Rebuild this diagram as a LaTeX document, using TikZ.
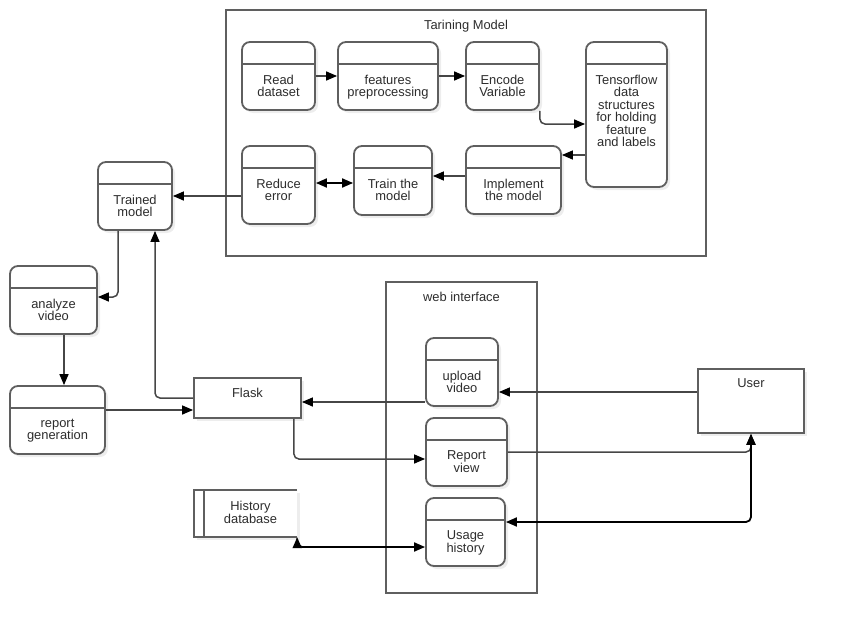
\documentclass[tikz,border=0pt]{standalone}
\usepackage{fontspec}
\setmainfont{Liberation Sans}
\usetikzlibrary{arrows.meta,shadows}

\definecolor{boxline}{RGB}{95,95,95}
\definecolor{flowline}{RGB}{70,70,70}
\definecolor{txtcol}{RGB}{45,45,45}

\tikzset{
  txt/.style={text=txtcol, align=center, inner sep=0pt, font=\fontsize{12.9}{12.5}\selectfont},
  proc/.style={draw=boxline, line width=1.8pt, fill=white, rounded corners=8pt,
    drop shadow={shadow xshift=3pt, shadow yshift=-3pt, fill=black!7, opacity=1},
    path picture={\draw[boxline, line width=1.8pt]
      ([yshift=-22pt]path picture bounding box.north west) -- ([yshift=-22pt]path picture bounding box.north east);},
    label={[txt, anchor=north, yshift=-33.5pt]north:#1}},
  ent/.style={draw=boxline, line width=1.8pt, fill=white,
    drop shadow={shadow xshift=3pt, shadow yshift=-3pt, fill=black!7, opacity=1},
    label={[txt, anchor=north, yshift=-10.5pt]north:#1}},
  group/.style={draw=boxline, line width=1.9pt},
  flow/.style={draw=flowline, line width=1.5pt, rounded corners=5pt, ->},
  both/.style={flow, draw=black, line width=1.8pt, <->},
}

\begin{document}
\begin{tikzpicture}[x=1pt, y=-1pt, >={Triangle[length=11pt, width=9pt, color=black]}]
  \useasboundingbox (0,0) rectangle (844,634);

  % containers
  \node[group, minimum width=480, minimum height=246] (trainbox) at (466,133) {};
  \node[txt] (traintitle) at (466,26) {Tarining Model};
  \node[group, minimum width=151, minimum height=311] (webbox) at (461.5,437.5) {};
  \node[txt] (webtitle) at (461.5,297) {web interface};

  % training steps
  \node[proc={Read\\dataset}, minimum width=73, minimum height=68] (read) at (278.5,76) {};
  \node[proc={features\\preprocessing}, minimum width=100, minimum height=68] (feat) at (388,76) {};
  \node[proc={Encode\\Variable}, minimum width=73, minimum height=68] (enc) at (502.5,76) {};
  \node[proc={Tensorflow\\data\\structures\\for holding\\feature\\and labels}, minimum width=81, minimum height=145] (tfds) at (626.5,114.5) {};
  \node[proc={Reduce\\error}, minimum width=73, minimum height=78] (reduce) at (278.5,185) {};
  \node[proc={Train the\\model}, minimum width=78, minimum height=69] (trainm) at (393,180.5) {};
  \node[proc={Implement\\the model}, minimum width=95, minimum height=68] (impl) at (513.5,180) {};

  % use of the model
  \node[proc={Trained\\model}, minimum width=74, minimum height=68] (trained) at (135,196) {};
  \node[proc={analyze\\video}, minimum width=87, minimum height=68] (analyze) at (53.5,300) {};
  \node[proc={report\\generation}, minimum width=95, minimum height=68] (report) at (57.5,420) {};
  \node[ent=Flask, minimum width=107, minimum height=40] (flask) at (247.5,398) {};
  \node[ent=User, minimum width=106, minimum height=64] (user) at (751,401) {};

  % web interface
  \node[proc={upload\\video}, minimum width=72, minimum height=68] (upload) at (462,372) {};
  \node[proc={Report\\view}, minimum width=81, minimum height=68] (rview) at (466.5,452) {};
  \node[proc={Usage\\history}, minimum width=79, minimum height=68] (usage) at (465.5,532) {};

  % data store
  \node[minimum width=103, minimum height=47, fill=white,
    drop shadow={shadow xshift=3pt, shadow yshift=-3pt, fill=black!7, opacity=1},
    label={[txt, xshift=5pt, yshift=1pt]center:History\\database}] (hdb) at (245.5,513.5) {};
  \draw[boxline, line width=1.8pt] (hdb.north east) -- (hdb.north west) -- (hdb.south west) -- (hdb.south east);
  \draw[boxline, line width=1.8pt] ([xshift=10pt]hdb.north west) -- ([xshift=10pt]hdb.south west);

  % training flow
  \draw[flow] (read) -- (feat);
  \draw[flow] (feat) -- (enc);
  \draw[flow] (enc.south east) |- ([yshift=-9.5pt]tfds.west);
  \coordinate (tfout) at ([yshift=-40.5pt]tfds.west);
  \draw[flow] (tfout) -- (tfout -| impl.east);
  \coordinate (implout) at ([yshift=4pt]impl.west);
  \draw[flow] (implout) -- (implout -| trainm.east);
  \coordinate (trainout) at ([yshift=-2.5pt]trainm.west);
  \draw[both] (trainout) -- (trainout -| reduce.east);
  \draw[flow] (trained.east -| reduce.west) -- (trained.east);

  % model to report
  \draw[flow] ([xshift=-17pt]trained.south) |- ([yshift=3pt]analyze.east);
  \draw[flow] ([xshift=10.5pt]analyze.south) -- ([xshift=6.5pt]report.north);
  \coordinate (repout) at ([yshift=10pt]report.east);
  \draw[flow] (repout) -- (repout -| flask.west);
  \draw[flow] (flask.west) -| ([xshift=20pt]trained.south);

  % web side
  \coordinate (flaskin) at ([yshift=-4pt]flask.east);
  \draw[flow] (flaskin -| upload.west) -- (flaskin);
  \coordinate (userout) at ([yshift=9pt]user.west);
  \draw[flow] (userout) -- (userout -| upload.east);
  \draw[flow] ([xshift=-8pt]flask.south east) |- ([yshift=-7pt]rview.west);
  \draw[flow] (rview.east) -| (user.south);
  \draw[both] ([yshift=10pt]usage.east) -| (user.south);
  \draw[both] (hdb.south east) |- ([yshift=-15pt]usage.west);
\end{tikzpicture}
\end{document}
